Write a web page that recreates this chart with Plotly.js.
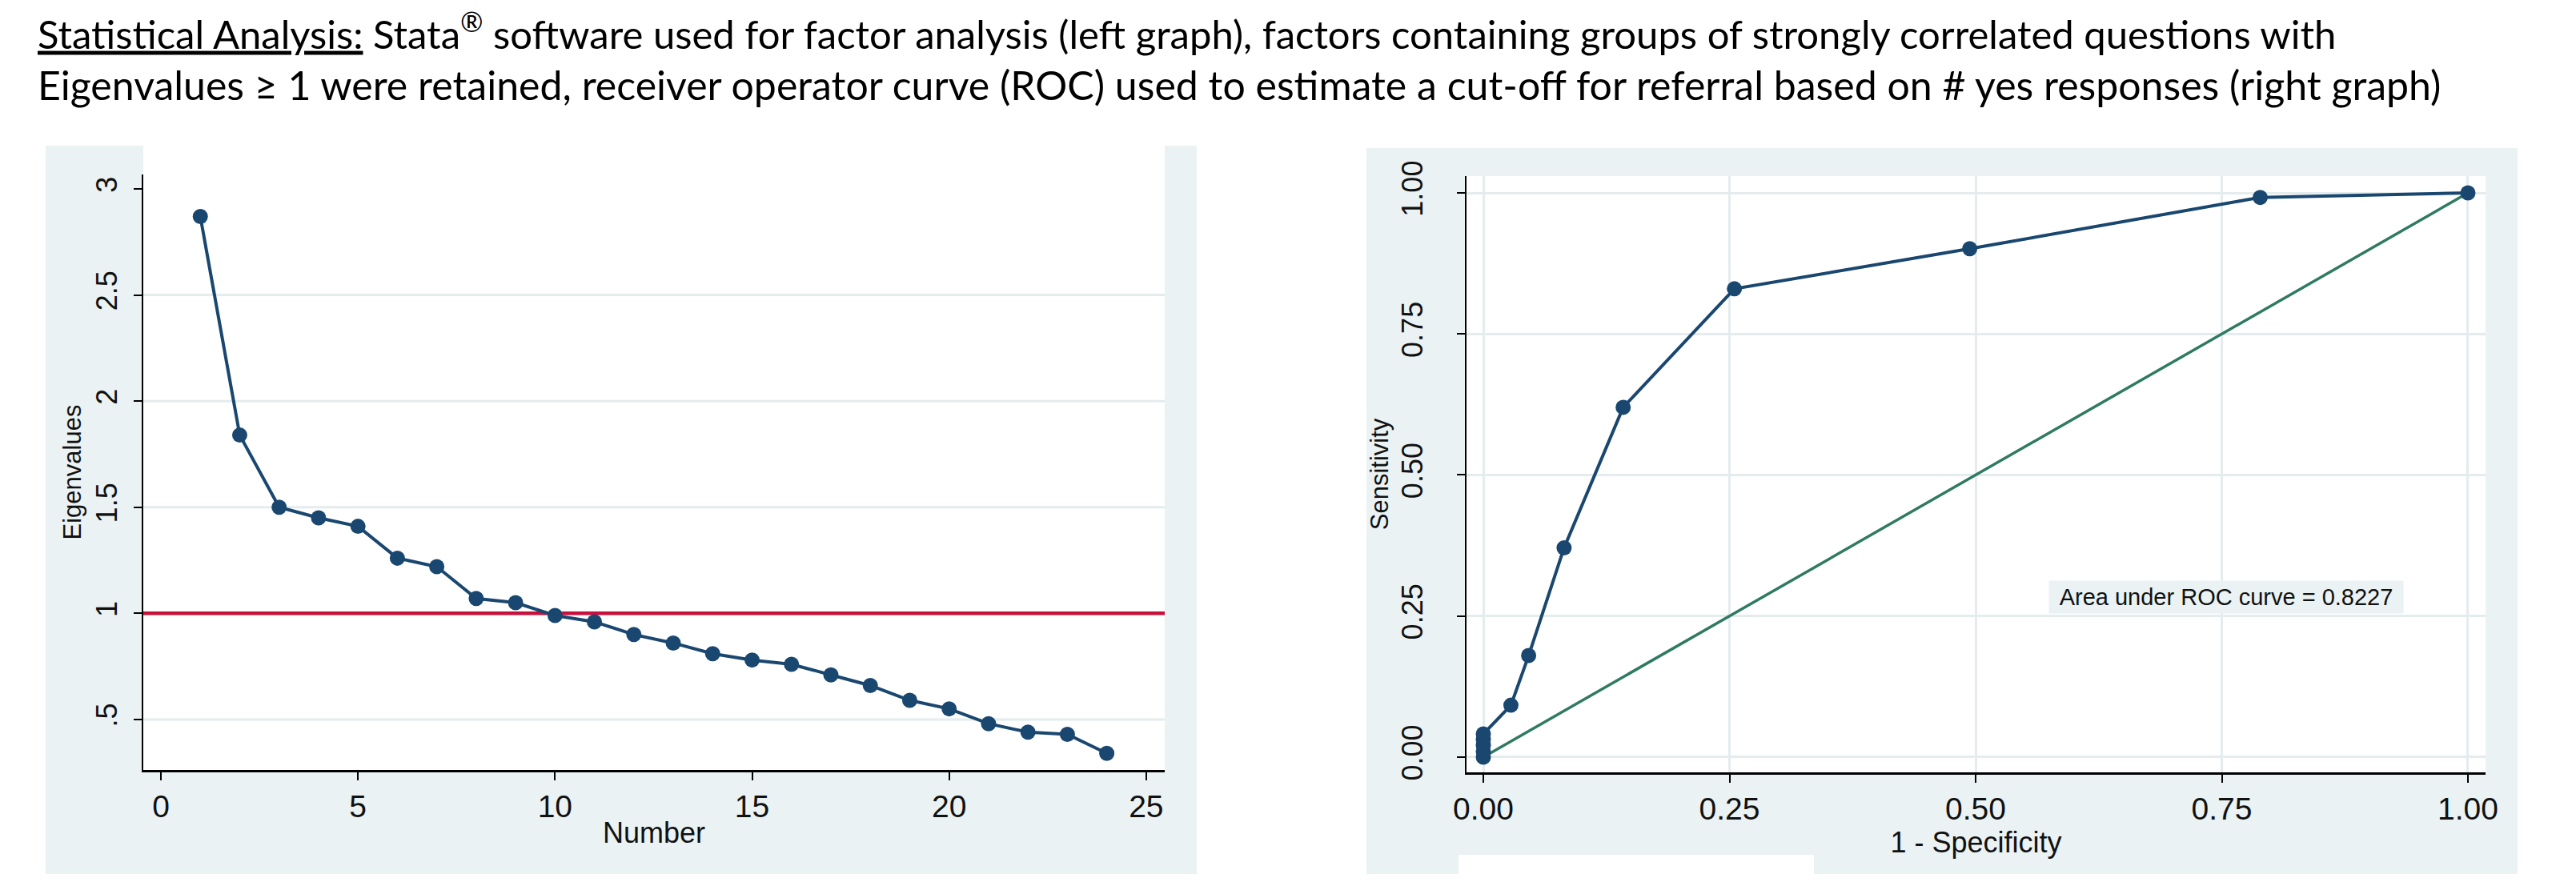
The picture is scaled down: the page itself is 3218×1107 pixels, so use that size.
<!DOCTYPE html>
<html>
<head>
<meta charset="utf-8">
<script src="https://cdn.plot.ly/plotly-3.0.1.min.js"></script>
<style>html,body{margin:0;padding:0;background:#fff;}#chart{width:3218px;height:1107px;}</style>
</head>
<body>
<div id="chart"></div>
<script>
// ---- Data ----
const factorNumber = [1,2,3,4,5,6,7,8,9,10,11,12,13,14,15,16,17,18,19,20,21,22,23,24];
const eigenvalues  = [2.87,1.84,1.50,1.45,1.41,1.26,1.22,1.07,1.05,0.99,0.96,0.90,0.86,0.81,0.78,0.76,0.71,0.66,0.59,0.55,0.48,0.44,0.43,0.34];
const kaiserThreshold = 1;
const eigTickVals  = [0.5,1,1.5,2,2.5,3];
const eigTickText  = ['.5','1','1.5','2','2.5','3'];
const eigGridVals  = [0.5,1,1.5,2,2.5];
const numberTicks  = [0,5,10,15,20,25];

const rocFPR  = [0,0,0,0,0,0.028,0.046,0.082,0.142,0.255,0.494,0.789,1];
const rocSens = [0,0.010,0.021,0.031,0.041,0.092,0.180,0.371,0.620,0.830,0.901,0.992,1];
const refLineX = [0,1];
const refLineY = [0,1];
const rocTicks = [0,0.25,0.5,0.75,1];
const aucText  = 'Area under ROC curve = 0.8227';

const titleLine1 = '<u>Statistical Analysis:</u> Stata<sup>®</sup> software used for factor analysis (left graph), factors containing groups of strongly correlated questions with';
const titleLine2 = 'Eigenvalues ≥ 1 were retained, receiver operator curve (ROC) used to estimate a cut-off for referral based on # yes responses (right graph)';

// ---- Styling ----
const W = 3218, H = 1107;
const NAVY = '#1a476f', RED = '#c8103c', GREEN = '#2f7a62';
const PANEL = '#eaf2f3', GRID = '#e4ecee';
const FAM = 'Liberation Sans, Arial, sans-serif';
const XTICK = {family: FAM, size: 39, color: '#111'};
const XTITLE = {family: FAM, size: 36, color: '#111'};
const YTICK = {family: FAM, size: 36, color: '#111'};
const YTITLE = {family: FAM, size: 31, color: '#111'};
const px = v => v / W;
const py = v => 1 - v / H;

const axisCommon = {
  showline: true, linecolor: '#000', linewidth: 2.5, mirror: false,
  ticks: 'outside', ticklen: 10, tickwidth: 2, tickcolor: '#000',
  zeroline: false, fixedrange: true
};

const traces = [
  {x: factorNumber, y: eigenvalues, xaxis: 'x', yaxis: 'y', type: 'scatter', mode: 'lines+markers',
   line: {color: NAVY, width: 4}, marker: {color: NAVY, size: 19}, hoverinfo: 'skip', showlegend: false},
  {x: refLineX, y: refLineY, xaxis: 'x2', yaxis: 'y2', type: 'scatter', mode: 'lines',
   line: {color: GREEN, width: 3.5}, hoverinfo: 'skip', showlegend: false},
  {x: rocFPR, y: rocSens, xaxis: 'x2', yaxis: 'y2', type: 'scatter', mode: 'lines+markers',
   line: {color: NAVY, width: 4}, marker: {color: NAVY, size: 19}, hoverinfo: 'skip', showlegend: false}
];

const shapes = [
  // graph regions (light panels)
  {type: 'rect', xref: 'paper', yref: 'paper', x0: px(57), x1: px(1495), y0: py(1092), y1: py(182),
   fillcolor: PANEL, line: {width: 0}, layer: 'below'},
  {type: 'rect', xref: 'paper', yref: 'paper', x0: px(1707), x1: px(3145), y0: py(1092), y1: py(185),
   fillcolor: PANEL, line: {width: 0}, layer: 'below'},
  {type: 'rect', xref: 'paper', yref: 'paper', x0: px(1822), x1: px(2266), y0: py(1095), y1: py(1068),
   fillcolor: '#ffffff', line: {width: 0}, layer: 'below'},
  // plot regions (white)
  {type: 'rect', xref: 'x domain', yref: 'y domain', x0: 0, x1: 1, y0: 0, y1: 1.0484,
   fillcolor: '#ffffff', line: {width: 0}, layer: 'below'},
  {type: 'rect', xref: 'x2 domain', yref: 'y2 domain', x0: 0, x1: 1, y0: 0, y1: 1,
   fillcolor: '#ffffff', line: {width: 0}, layer: 'below'}
];
// horizontal grid lines of the scree plot (none at the top tick)
eigGridVals.forEach(v => shapes.push({type: 'line', xref: 'x domain', yref: 'y', x0: 0, x1: 1, y0: v, y1: v,
  line: {color: GRID, width: 3}, layer: 'below'}));
// Kaiser criterion line
shapes.push({type: 'line', xref: 'x domain', yref: 'y', x0: 0, x1: 1, y0: kaiserThreshold, y1: kaiserThreshold,
  line: {color: RED, width: 4.5}, layer: 'below'});

const layout = {
  width: W, height: H,
  margin: {l: 0, r: 0, t: 0, b: 0},
  paper_bgcolor: '#ffffff', plot_bgcolor: 'rgba(0,0,0,0)',
  showlegend: false,
  xaxis: Object.assign({}, axisCommon, {
    domain: [px(179), px(1455)], range: [-0.447, 25.47], tickfont: XTICK,
    tickvals: numberTicks, showgrid: false, anchor: 'y',
    title: {text: 'Number', font: XTITLE, standoff: 0}
  }),
  yaxis: Object.assign({}, axisCommon, {
    domain: [py(962), py(218)], range: [0.262, 3.068], tickfont: YTICK,
    tickvals: eigTickVals, ticktext: eigTickText, tickangle: -90, showgrid: false, anchor: 'x',
    ticklabelstandoff: 6,
    title: {text: 'Eigenvalues', font: YTITLE, standoff: 2}
  }),
  xaxis2: Object.assign({}, axisCommon, {
    domain: [px(1832), px(3105)], range: [-0.0171, 1.0179], tickfont: XTICK,
    tickvals: rocTicks, tickformat: '.2f', showgrid: true, gridcolor: GRID, gridwidth: 3, anchor: 'y2',
    title: {text: '1 - Specificity', font: XTITLE, standoff: 0}
  }),
  yaxis2: Object.assign({}, axisCommon, {
    domain: [py(965), py(220)], range: [-0.027, 1.0298], tickfont: YTICK,
    tickvals: rocTicks, tickformat: '.2f', tickangle: -90, showgrid: true, gridcolor: GRID, gridwidth: 3, anchor: 'x2',
    ticklabelstandoff: 28,
    title: {text: 'Sensitivity', font: YTITLE, standoff: 0}
  }),
  shapes: shapes,
  annotations: [
    {xref: 'paper', yref: 'paper', x: px(45), y: py(38), xanchor: 'left', yanchor: 'middle',
     text: titleLine1, showarrow: false, font: {family: 'Lato, sans-serif', size: 49, color: '#000'}},
    {xref: 'paper', yref: 'paper', x: px(45), y: py(106), xanchor: 'left', yanchor: 'middle',
     text: titleLine2, showarrow: false, font: {family: 'Lato, sans-serif', size: 50, color: '#000'}},
    {xref: 'x2', yref: 'y2', x: 0.7545, y: 0.2837, xanchor: 'center', yanchor: 'middle',
     text: aucText, showarrow: false, bgcolor: PANEL, width: 440, height: 38,
     font: {family: 'Liberation Sans Narrow, Liberation Sans, Arial, sans-serif', size: 29, color: '#111'}}
  ]
};

Plotly.newPlot('chart', traces, layout, {staticPlot: true, displayModeBar: false});
</script>
</body>
</html>
